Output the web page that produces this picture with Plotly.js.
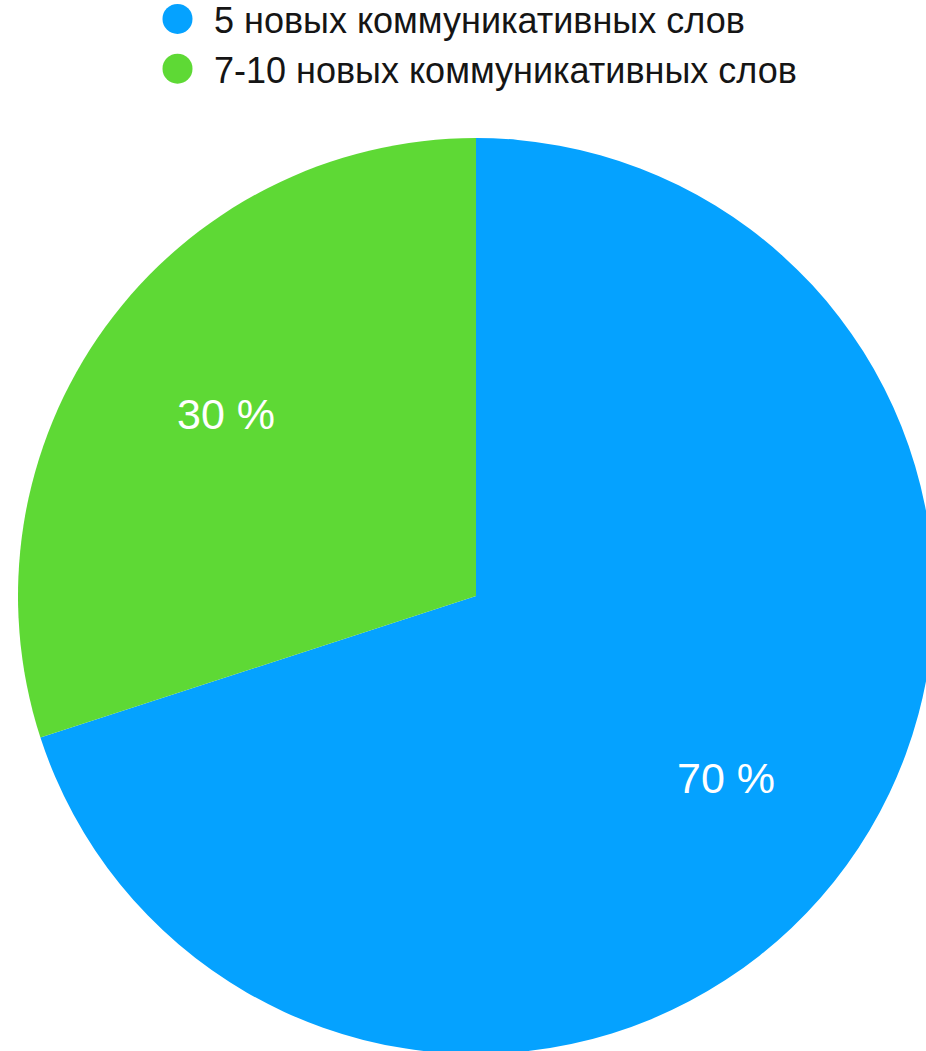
<!DOCTYPE html>
<html>
<head>
<meta charset="utf-8">
<script src="https://cdn.plot.ly/plotly-3.0.1.min.js"></script>
<style>
  html, body { margin: 0; padding: 0; overflow: hidden; background: #ffffff; width: 926px; height: 1051px; }
  #chart { width: 952px; height: 1060px; }
</style>
</head>
<body>
<div id="chart"></div>
<script>
const categories = ['5 новых коммуникативных слов', '7-10 новых коммуникативных слов'];
const values = [70, 30];
const valueLabels = ['70 %', '30 %'];
const colors = ['#05A2FF', '#5ED935'];

const FONT = '"Liberation Sans", Arial, Helvetica, sans-serif';
const W = 952, H = 1060, MT = 138, MB = 6;
const plotH = H - MT - MB;

const traces = [{
  type: 'pie',
  labels: categories,
  values: values,
  textinfo: 'none',
  sort: false,
  direction: 'clockwise',
  rotation: 0,
  marker: { colors: colors, line: { width: 0 } },
  showlegend: false,
  hoverinfo: 'label+percent',
  domain: { x: [0, 1], y: [0, 1] }
}];

categories.forEach((c, i) => {
  traces.push({
    type: 'scatter',
    mode: 'markers',
    x: [null], y: [null],
    name: c,
    marker: { symbol: 'circle', size: 16, color: colors[i] },
    showlegend: true,
    hoverinfo: 'skip'
  });
});

// value labels placed along each slice's mid angle (derived from the data)
const total = values.reduce((a, b) => a + b, 0);
const radiusPx = Math.min(W, plotH) / 2;
const labelR = 0.675 * radiusPx;
let cum = 0;
const annotations = values.map((v, i) => {
  const mid = (cum + v / 2) / total * 2 * Math.PI;
  cum += v;
  return {
    xref: 'paper', yref: 'paper',
    x: 0.5 + Math.sin(mid) * labelR / W,
    y: 0.5 + Math.cos(mid) * labelR / plotH,
    xanchor: 'center', yanchor: 'middle',
    text: valueLabels[i],
    showarrow: false,
    font: { family: FONT, size: 43, color: '#ffffff' }
  };
});

const layout = {
  width: W,
  height: H,
  margin: { l: 0, r: 0, t: MT, b: MB, autoexpand: false },
  paper_bgcolor: '#ffffff',
  plot_bgcolor: '#ffffff',
  xaxis: { visible: false },
  yaxis: { visible: false },
  showlegend: true,
  annotations: annotations,
  legend: {
    orientation: 'v',
    x: 151 / W,
    xanchor: 'left',
    y: 1 + 149 / plotH,
    yanchor: 'top',
    font: { family: FONT, size: 36, color: '#151515' },
    itemsizing: 'trace',
    itemwidth: 53,
    tracegroupgap: 0,
    bgcolor: 'rgba(0,0,0,0)'
  }
};

Plotly.newPlot('chart', traces, layout, { displayModeBar: false, staticPlot: true }).then(() => {
  // enlarge the legend dots to the reference's size
  const rad = 15, off = -5;
  const circle = 'M' + (off + rad) + ',0A' + rad + ',' + rad + ' 0 1,1 ' + off + ',-' + rad +
                 'A' + rad + ',' + rad + ' 0 0,1 ' + (off + rad) + ',0Z';
  document.querySelectorAll('.legend .legendpoints path.scatterpts').forEach(p => {
    p.setAttribute('d', circle);
  });
});
</script>
</body>
</html>
